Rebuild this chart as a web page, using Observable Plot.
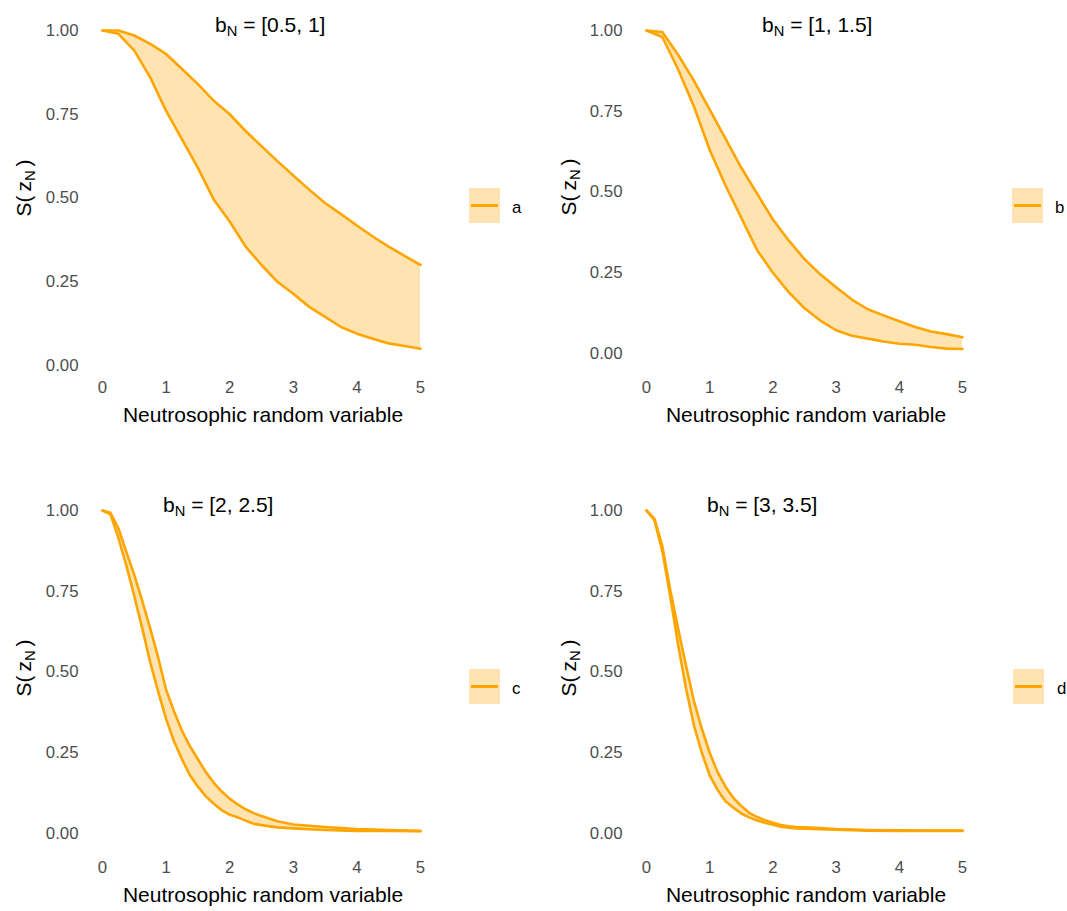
<!DOCTYPE html>
<html><head><meta charset="utf-8">
<script src="https://cdn.jsdelivr.net/npm/d3@7"></script>
<script src="https://cdn.jsdelivr.net/npm/@observablehq/plot@0.6"></script>
<style>
body{margin:0;background:#fff;font-family:"Liberation Sans",Arial,sans-serif;}
#wrap{position:relative;width:1067px;height:911px;overflow:hidden;background:#fff;}
.panel{position:absolute;}
.txt{position:absolute;white-space:nowrap;color:#000;line-height:1;}
.title{font-size:21px;}
.title .s,.yt .s{font-size:0.7em;position:relative;top:0.3em;line-height:0;}
.xt{font-size:21px;transform:translate(-50%,-50%);}
.yt{font-size:21px;transform:translate(-50%,-50%) rotate(-90deg);}
.yt .z{margin:0 4px;}
.key{position:absolute;width:31px;height:35px;background:rgba(255,165,0,0.3);}
.key::after{content:"";position:absolute;left:2px;right:2px;top:16px;height:3px;background:#FFA500;}
.lg{font-size:16.8px;transform:translateY(-50%);}
</style></head><body><div id="wrap"></div>
<script>
// ---- data ----
const xAB = [0,0.25,0.5,0.75,1,1.25,1.5,1.75,2,2.25,2.5,2.75,3,3.25,3.5,3.75,4,4.25,4.5,4.75,5];
const xCD = [0,0.125,0.25,0.375,0.5,0.625,0.75,0.875,1,1.125,1.25,1.375,1.5,1.625,1.75,1.875,2,2.125,2.25,2.375,2.5,2.75,3,3.5,4,4.5,5];

const upperA = [1.0,1.0,0.985,0.96,0.93,0.885,0.84,0.79,0.75,0.70,0.655,0.61,0.567,0.525,0.485,0.452,0.418,0.385,0.355,0.327,0.30];
const lowerA = [1.0,0.99,0.94,0.86,0.76,0.675,0.59,0.495,0.43,0.355,0.30,0.25,0.214,0.175,0.145,0.115,0.095,0.08,0.066,0.058,0.05];

const upperB = [1.0,0.995,0.925,0.845,0.755,0.665,0.575,0.495,0.415,0.35,0.292,0.245,0.205,0.167,0.137,0.118,0.10,0.082,0.068,0.06,0.05];
const lowerB = [1.0,0.98,0.88,0.765,0.63,0.52,0.42,0.32,0.25,0.19,0.14,0.102,0.072,0.055,0.046,0.037,0.03,0.027,0.02,0.015,0.014];

const upperC = [1.0,0.993,0.945,0.872,0.80,0.72,0.635,0.545,0.445,0.378,0.318,0.27,0.23,0.19,0.157,0.13,0.108,0.09,0.075,0.063,0.054,0.038,0.028,0.02,0.014,0.011,0.008];
const lowerC = [1.0,0.988,0.915,0.83,0.735,0.635,0.53,0.44,0.355,0.285,0.23,0.18,0.145,0.115,0.092,0.072,0.058,0.05,0.04,0.03,0.026,0.019,0.016,0.011,0.008,0.008,0.007];

const upperD = [1.0,0.975,0.89,0.755,0.635,0.52,0.41,0.325,0.25,0.19,0.145,0.11,0.085,0.064,0.051,0.041,0.033,0.026,0.022,0.02,0.019,0.017,0.014,0.011,0.01,0.009,0.009];
const lowerD = [1.0,0.97,0.875,0.735,0.585,0.45,0.335,0.25,0.18,0.135,0.10,0.08,0.062,0.05,0.04,0.033,0.027,0.021,0.018,0.016,0.015,0.013,0.012,0.009,0.008,0.008,0.008];

const titleRanges = ["[0.5, 1]", "[1, 1.5]", "[2, 2.5]", "[3, 3.5]"];
const legendKeys = ["a", "b", "c", "d"];
const xTicks = [0, 1, 2, 3, 4, 5];
const yTicks = [0, 0.25, 0.5, 0.75, 1];
const xTitle = "Neutrosophic random variable";

// ---- layout ----
const series = [
  {x: xAB, upper: upperA, lower: lowerA},
  {x: xAB, upper: upperB, lower: lowerB},
  {x: xCD, upper: upperC, lower: lowerC},
  {x: xCD, upper: upperD, lower: lowerD}
];
const layout = [
  {left: 0,   top: 0,   mL: 102, pw: 318, mT: 30, ph: 335, pad: 16, titleX: 215, titleTop: 14,  xtX: 263, xtY: 414, ytX: 23,  ytY: 188, keyX: 469,  keyY: 188, lgX: 512},
  {left: 540, top: 0,   mL: 106, pw: 316, mT: 30, ph: 323, pad: 28, titleX: 762, titleTop: 14,  xtX: 806, xtY: 414, ytX: 568, ytY: 187, keyX: 1012, keyY: 188, lgX: 1055},
  {left: 0,   top: 460, mL: 102, pw: 318, mT: 50, ph: 323, pad: 28, titleX: 163, titleTop: 494, xtX: 263, xtY: 894, ytX: 23,  ytY: 668, keyX: 469,  keyY: 669, lgX: 512},
  {left: 540, top: 460, mL: 106, pw: 316, mT: 50, ph: 323, pad: 28, titleX: 707, titleTop: 494, xtX: 806, xtY: 894, ytX: 568, ytY: 668, keyX: 1013, keyY: 669, lgX: 1057}
];

const wrap = document.getElementById("wrap");
const W = 440;

series.forEach((s, i) => {
  const L = layout[i];
  const data = s.x.map((x, j) => ({x, upper: s.upper[j], lower: s.lower[j]}));
  const H = L.mT + L.ph + 50;
  const chart = Plot.plot({
    width: W, height: H,
    marginLeft: L.mL, marginRight: W - L.mL - L.pw,
    marginTop: L.mT, marginBottom: 50,
    style: {fontSize: "16.8px", fontFamily: "'Liberation Sans', Arial, sans-serif", color: "#4d4d4d", background: "transparent", overflow: "visible"},
    x: {domain: [0, 5], ticks: xTicks, tickFormat: d3.format("d"), tickSize: 0, tickPadding: L.pad, label: null},
    y: {domain: [0, 1], ticks: yTicks, tickFormat: d3.format(".2f"), tickSize: 0, tickPadding: 24, label: null},
    marks: [
      Plot.areaY(data, {x: "x", y1: "lower", y2: "upper", fill: "#FFA500", fillOpacity: 0.3}),
      Plot.lineY(data, {x: "x", y: "upper", stroke: "#FFA500", strokeWidth: 2.6}),
      Plot.lineY(data, {x: "x", y: "lower", stroke: "#FFA500", strokeWidth: 2.6})
    ]
  });
  chart.classList.add("panel");
  chart.style.left = L.left + "px";
  chart.style.top = L.top + "px";
  wrap.appendChild(chart);

  const t = document.createElement("div");
  t.className = "txt title";
  t.style.left = L.titleX + "px"; t.style.top = L.titleTop + "px";
  t.innerHTML = 'b<span class="s">N</span> = ' + titleRanges[i];
  wrap.appendChild(t);

  const xt = document.createElement("div");
  xt.className = "txt xt";
  xt.style.left = L.xtX + "px"; xt.style.top = L.xtY + "px";
  xt.textContent = xTitle;
  wrap.appendChild(xt);

  const yt = document.createElement("div");
  yt.className = "txt yt";
  yt.style.left = L.ytX + "px"; yt.style.top = L.ytY + "px";
  yt.innerHTML = 'S(<span class="z">z<span class="s">N</span></span>)';
  wrap.appendChild(yt);

  const key = document.createElement("div");
  key.className = "key";
  key.style.left = L.keyX + "px"; key.style.top = L.keyY + "px";
  wrap.appendChild(key);

  const lg = document.createElement("div");
  lg.className = "txt lg";
  lg.style.left = L.lgX + "px"; lg.style.top = (L.keyY + 20) + "px";
  lg.textContent = legendKeys[i];
  wrap.appendChild(lg);
});
</script></body></html>
